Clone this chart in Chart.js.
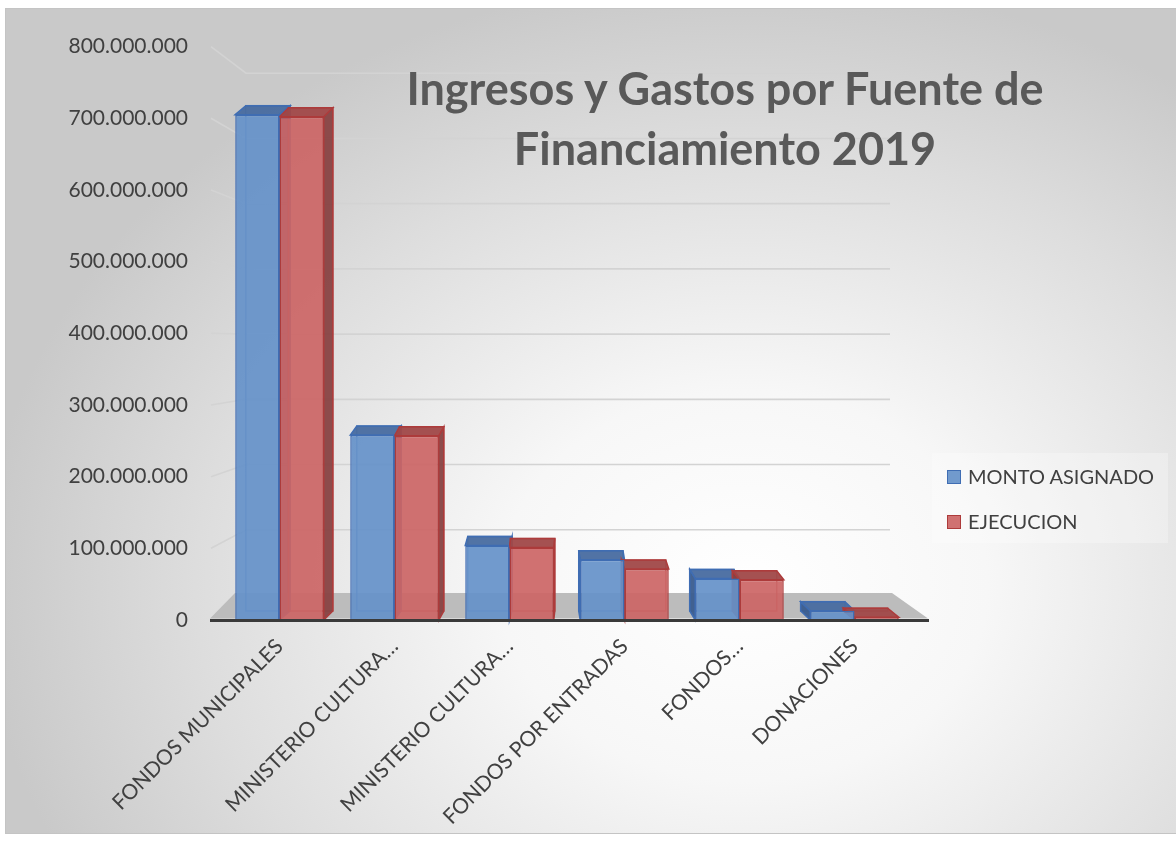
<!DOCTYPE html>
<html>
<head>
<meta charset="utf-8">
<script src="https://cdn.jsdelivr.net/npm/chart.js@4.4.1/dist/chart.umd.min.js"></script>
<style>
  html, body { margin: 0; padding: 0; background: #ffffff; }
  #wrap { position: relative; width: 1176px; height: 841px; overflow: hidden; }
  #bg {
    position: absolute; left: 5px; top: 8px; width: 1190px; height: 824px;
    border: 1px solid #c4c4c4;
    background: radial-gradient(ellipse 64% 74% at 62% 70%, #ffffff 0%, #f7f7f7 32%, #dddddd 72%, #c9c9c9 100%);
  }
  #chartBox { position: absolute; left: 0; top: 0; width: 1176px; height: 841px; }
  #title {
    position: absolute; left: 375px; width: 700px; top: 58px;
    font-family: Lato, "Open Sans", sans-serif; font-weight: bold; font-size: 45px;
    line-height: 60px; color: #595959; text-align: center; white-space: nowrap;
  }
  #legend {
    position: absolute; left: 932px; top: 453px; width: 236px; height: 90px;
    background: rgba(255,255,255,0.28);
    font-family: Lato, "Open Sans", sans-serif; font-size: 20px; color: #404040;
  }
  .item { position: absolute; left: 15px; height: 24px; line-height: 24px; white-space: nowrap; }
  .sw { display: inline-block; width: 12px; height: 12px; border: 1px solid; vertical-align: middle; margin-right: 7px; position: relative; top: -2px; }
</style>
</head>
<body>
<div id="wrap">
  <div id="bg"></div>
  <div id="chartBox"><canvas id="c" width="1176" height="841"></canvas></div>
  <div id="title">Ingresos y Gastos por Fuente de<br>Financiamiento 2019</div>
  <div id="legend">
    <div class="item" style="top:11px"><span class="sw" id="sw0"></span><span id="lg0"></span></div>
    <div class="item" style="top:56px"><span class="sw" id="sw1"></span><span id="lg1"></span></div>
  </div>
</div>
<script>
// ---- data ----
const categories = ['FONDOS MUNICIPALES', 'MINISTERIO CULTURA…', 'MINISTERIO CULTURA…', 'FONDOS POR ENTRADAS', 'FONDOS…', 'DONACIONES'];
const seriesNames = ['MONTO ASIGNADO', 'EJECUCION'];
const montoAsignado = [705000000, 258000000, 104000000, 84000000, 58000000, 13000000];
const ejecucion = [702000000, 257000000, 101000000, 71000000, 56000000, 4000000];
const yTickValues = [0, 100000000, 200000000, 300000000, 400000000, 500000000, 600000000, 700000000, 800000000];

// ---- styles ----
const FONT = 'Lato, "Open Sans", sans-serif';
const blue = { front: 'rgba(101,145,201,0.92)', border: '#3f6db3', top: 'rgba(72,108,160,0.95)', side: 'rgba(58,92,142,0.95)' };
const red  = { front: 'rgba(204,101,101,0.92)', border: '#ad3b3b', top: 'rgba(160,72,72,0.95)', side: 'rgba(136,66,66,0.95)' };
const palettes = [blue, red];

function fmt(v) {
  return String(Math.round(v)).replace(/\B(?=(\d{3})+(?!\d))/g, '.');
}

// legend (HTML text)
[0, 1].forEach(i => {
  document.getElementById('lg' + i).textContent = seriesNames[i];
  const s = document.getElementById('sw' + i);
  s.style.background = palettes[i].front;
  s.style.borderColor = palettes[i].border;
});

const depthPlugin = {
  id: 'depth3d',
  beforeDatasetsDraw(chart) {
    const { ctx, chartArea: a } = chart;
    const ys = chart.scales.y;
    const FD = 25;            // floor depth (px)
    const BACK_X = 24;        // back wall x offset
    const SHRINK = 0.91;      // back wall scale ratio
    ctx.save();
    ctx.strokeStyle = '#d3d3d3';
    ctx.lineWidth = 1.6;
    yTickValues.forEach(v => {
      if (v === 0) return;
      const yf = ys.getPixelForValue(v);
      const yb = (a.bottom - FD) - (a.bottom - yf) * SHRINK;
      ctx.beginPath();
      ctx.moveTo(a.left - 11, yf);
      ctx.lineTo(a.left + BACK_X, yb);
      ctx.lineTo(a.right - 22, yb);
      ctx.stroke();
    });
    ctx.fillStyle = '#bcbcbc';
    ctx.beginPath();
    ctx.moveTo(a.left - 12, a.bottom - 1.5);
    ctx.lineTo(a.right + 16, a.bottom - 1.5);
    ctx.lineTo(a.right - 20, a.bottom - FD - 2);
    ctx.lineTo(a.left + 13, a.bottom - FD - 2);
    ctx.closePath();
    ctx.fill();
    const vx = a.left + (a.right - a.left) * 0.49;
    const K = 0.035, DY = 9;
    chart.data.datasets.forEach((ds, di) => {
      const meta = chart.getDatasetMeta(di);
      const pal = palettes[di];
      meta.data.forEach(bar => {
        const p = bar.getProps(['x', 'y', 'base', 'width'], true);
        const L = p.x - p.width / 2, R = p.x + p.width / 2;
        const T = p.y, B = p.base;
        const dx = (vx - p.x) * K, dy = DY;
        ctx.lineWidth = 1.5;
        ctx.strokeStyle = pal.border;
        ctx.globalAlpha = 0.7;
        ctx.strokeRect(L + dx, T - dy, R - L, B - T);
        ctx.globalAlpha = 1;
        const sx = dx >= 0 ? R : L;
        ctx.fillStyle = pal.side;
        ctx.beginPath();
        ctx.moveTo(sx, T);
        ctx.lineTo(sx + dx, T - dy);
        ctx.lineTo(sx + dx, B - dy);
        ctx.lineTo(sx, B);
        ctx.closePath();
        ctx.fill();
        ctx.stroke();
        ctx.fillStyle = pal.top;
        ctx.beginPath();
        ctx.moveTo(L, T);
        ctx.lineTo(L + dx, T - dy);
        ctx.lineTo(R + dx, T - dy);
        ctx.lineTo(R, T);
        ctx.closePath();
        ctx.fill();
        ctx.stroke();
      });
    });
    ctx.restore();
  },
  afterDatasetsDraw(chart) {
    const { ctx, chartArea: a } = chart;
    ctx.save();
    ctx.strokeStyle = '#3a3a3a';
    ctx.lineWidth = 3;
    ctx.beginPath();
    ctx.moveTo(a.left - 12, a.bottom + 0.5);
    ctx.lineTo(a.right + 17, a.bottom + 0.5);
    ctx.stroke();
    ctx.restore();
  }
};

new Chart(document.getElementById('c'), {
  type: 'bar',
  data: {
    labels: categories,
    datasets: [
      { label: seriesNames[0], data: montoAsignado, backgroundColor: blue.front, borderColor: blue.border, borderWidth: 1.5 },
      { label: seriesNames[1], data: ejecucion, backgroundColor: red.front, borderColor: red.border, borderWidth: 1.5 }
    ]
  },
  options: {
    responsive: false,
    animation: false,
    layout: { autoPadding: false, padding: { left: 0, right: 264, top: 40, bottom: 0 } },
    datasets: { bar: { categoryPercentage: 0.77, barPercentage: 1.0 } },
    plugins: { legend: { display: false }, title: { display: false }, tooltip: { enabled: false } },
    scales: {
      x: {
        grid: { display: false, drawTicks: false },
        border: { display: false },
        ticks: {
          autoSkip: false, minRotation: 45, maxRotation: 45, padding: 14,
          color: '#404040', font: { family: FONT, size: 21 }
        },
        afterFit(scale) { scale.height = 221; }
      },
      y: {
        min: 0, max: 800000000,
        grid: { display: false, drawTicks: false },
        border: { display: false },
        afterBuildTicks(scale) { scale.ticks = yTickValues.map(v => ({ value: v })); },
        ticks: {
          padding: 34, color: '#404040', font: { family: FONT, size: 21 },
          callback: (v) => fmt(v)
        },
        afterFit(scale) { scale.width = 222; }
      }
    }
  },
  plugins: [depthPlugin]
});
</script>
</body>
</html>
